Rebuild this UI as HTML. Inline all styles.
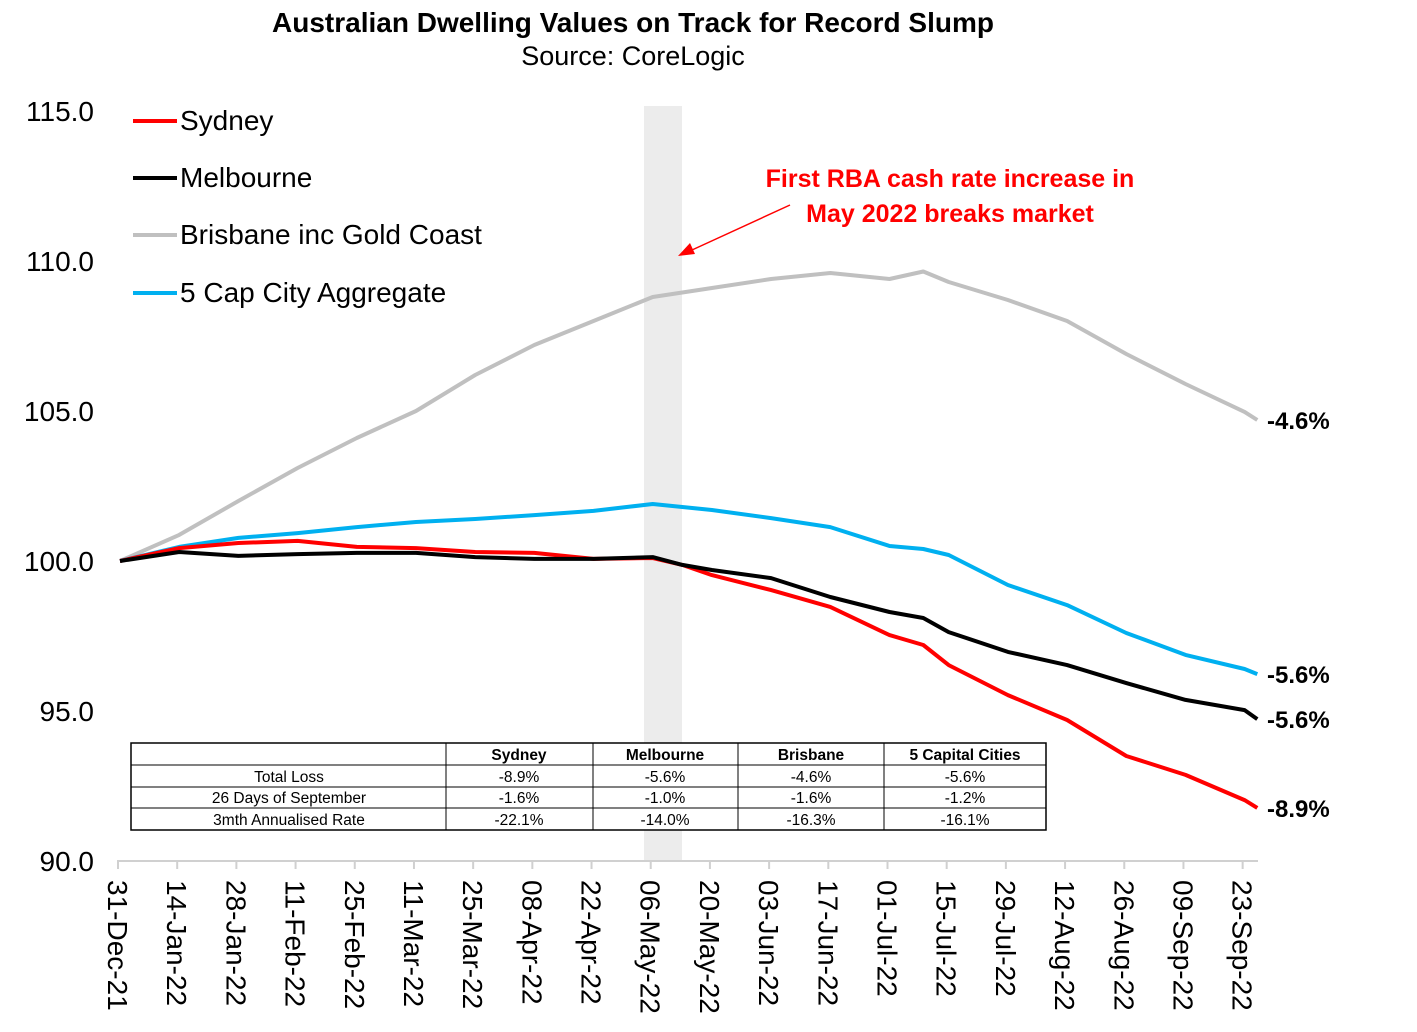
<!DOCTYPE html>
<html><head><meta charset="utf-8"><style>
body{margin:0;background:#fff;font-family:"Liberation Sans",Arial,sans-serif}
svg text{font-family:"Liberation Sans",Arial,sans-serif}
</style></head><body>
<svg id="chart" width="1417" height="1027" viewBox="0 0 1417 1027" xmlns="http://www.w3.org/2000/svg">
<text x="633" y="32" text-anchor="middle" font-size="28" font-weight="bold">Australian Dwelling Values on Track for Record Slump</text>
<text x="633" y="65" text-anchor="middle" font-size="27">Source: CoreLogic</text>
<rect x="644" y="106" width="38" height="755" fill="#ececec"/>
<g id="yaxis"></g>
<g id="xaxis"></g>
<g id="series"></g>
<g>
<g><line x1="133" y1="121" x2="177" y2="121" stroke="#ff0000" stroke-width="4"/><text x="180" y="130" font-size="28">Sydney</text></g>
<g><line x1="133" y1="178" x2="177" y2="178" stroke="#000" stroke-width="4"/><text x="180" y="187" font-size="28">Melbourne</text></g>
<g><line x1="133" y1="235" x2="177" y2="235" stroke="#c0c0c0" stroke-width="4"/><text x="180" y="244" font-size="28">Brisbane inc Gold Coast</text></g>
<g><line x1="133" y1="293" x2="177" y2="293" stroke="#00b0f0" stroke-width="4"/><text x="180" y="302" font-size="28">5 Cap City Aggregate</text></g>
</g>
<g>
<text x="950" y="187" text-anchor="middle" font-size="25" font-weight="bold" fill="#ff0000">First RBA cash rate increase in</text>
<text x="950" y="222" text-anchor="middle" font-size="25" font-weight="bold" fill="#ff0000">May 2022 breaks market</text>
<line x1="790" y1="205" x2="692" y2="250" stroke="#ff0000" stroke-width="1.5"/>
<polygon points="678,256 690,243 695,254" fill="#ff0000"/>
</g>
<g id="endlabels"></g>
<g font-size="15.5">
<rect x="131" y="743" width="915" height="87" fill="#fff" stroke="#000" stroke-width="1.5"/>
<line x1="131" y1="765" x2="1046" y2="765" stroke="#000"/>
<line x1="131" y1="787" x2="1046" y2="787" stroke="#000"/>
<line x1="131" y1="808" x2="1046" y2="808" stroke="#000"/>
<line x1="446" y1="743" x2="446" y2="830" stroke="#000"/>
<line x1="593" y1="743" x2="593" y2="830" stroke="#000"/>
<line x1="738" y1="743" x2="738" y2="830" stroke="#000"/>
<line x1="884" y1="743" x2="884" y2="830" stroke="#000"/>
<g font-weight="bold" text-anchor="middle"><text x="519" y="760">Sydney</text><text x="665" y="760">Melbourne</text><text x="811" y="760">Brisbane</text><text x="965" y="760">5 Capital Cities</text></g>
<g text-anchor="middle">
<text x="289" y="782">Total Loss</text><text x="519" y="782">-8.9%</text><text x="665" y="782">-5.6%</text><text x="811" y="782">-4.6%</text><text x="965" y="782">-5.6%</text>
<text x="289" y="803">26 Days of September</text><text x="519" y="803">-1.6%</text><text x="665" y="803">-1.0%</text><text x="811" y="803">-1.6%</text><text x="965" y="803">-1.2%</text>
<text x="289" y="825">3mth Annualised Rate</text><text x="519" y="825">-22.1%</text><text x="665" y="825">-14.0%</text><text x="811" y="825">-16.3%</text><text x="965" y="825">-16.1%</text>
</g>
</g>
</svg>
<script>
const days = [0,14,28,42,56,70,84,98,112,126,133,140,154,168,182,190,196,210,224,238,252,266,269];
const sydney = [100,100.43,100.6,100.67,100.47,100.43,100.3,100.27,100.07,100.1,99.87,99.53,99.03,98.47,97.53,97.2,96.53,95.53,94.7,93.5,92.87,92.03,91.77];
const melbourne = [100,100.3,100.17,100.23,100.27,100.27,100.13,100.07,100.07,100.13,99.87,99.7,99.43,98.8,98.3,98.1,97.63,96.97,96.53,95.93,95.37,95.03,94.73];
const brisbane = [100,100.87,102.0,103.1,104.1,105.0,106.2,107.2,108.0,108.8,108.95,109.1,109.4,109.6,109.4,109.65,109.3,108.7,108.0,106.9,105.9,104.97,104.7];
const fiveCap = [100,100.47,100.77,100.93,101.13,101.3,101.4,101.53,101.67,101.9,101.8,101.7,101.43,101.13,100.5,100.4,100.2,99.2,98.53,97.6,96.87,96.4,96.23];
const yTicks = [90,95,100,105,110,115];
const yTickLabels = ["90.0","95.0","100.0","105.0","110.0","115.0"];
const xTickDays = [0,14,28,42,56,70,84,98,112,126,140,154,168,182,196,210,224,238,252,266];
const xTickLabels = ["31-Dec-21","14-Jan-22","28-Jan-22","11-Feb-22","25-Feb-22","11-Mar-22","25-Mar-22","08-Apr-22","22-Apr-22","06-May-22","20-May-22","03-Jun-22","17-Jun-22","01-Jul-22","15-Jul-22","29-Jul-22","12-Aug-22","26-Aug-22","09-Sep-22","23-Sep-22"];
const endLabels = ["-8.9%","-5.6%","-4.6%","-5.6%"];

const NS="http://www.w3.org/2000/svg";
const xs = d => 120 + d*4.228;
const ys = v => 561 - (v-100)*30;
function mk(tag, attrs, parent){const e=document.createElementNS(NS,tag);for(const k in attrs)e.setAttribute(k,attrs[k]);parent.appendChild(e);return e;}
const yg=document.getElementById('yaxis');
yTicks.forEach((v,i)=>{const t=mk('text',{x:94,y:ys(v)+10,'text-anchor':'end','font-size':28},yg);t.textContent=yTickLabels[i];

});
const xg=document.getElementById('xaxis');
mk('line',{x1:117,y1:861,x2:1258,y2:861,stroke:'#d0d0d0','stroke-width':2},xg);
xTickDays.forEach((d,i)=>{const x=xs(d)-2;mk('line',{x1:x,y1:861,x2:x,y2:869,stroke:'#d0d0d0','stroke-width':2},xg);
const t=mk('text',{x:0,y:0,'font-size':28,transform:`translate(${x-10},880) rotate(90)`},xg);t.textContent=xTickLabels[i];

});
const sg=document.getElementById('series');
const list=[[brisbane,'#c0c0c0','brisbane-line'],[fiveCap,'#00b0f0','five-cap-line'],[sydney,'#ff0000','sydney-line'],[melbourne,'#000000','melbourne-line']];
list.forEach(([vals,c,n])=>{const p=mk('polyline',{points:vals.map((v,i)=>xs(days[i]).toFixed(1)+','+ys(v).toFixed(1)).join(' '),fill:'none',stroke:c,'stroke-width':4,'stroke-linejoin':'round'},sg);

});
const eg=document.getElementById('endlabels');
const last=days.length-1;
[[sydney,0],[melbourne,1],[brisbane,2],[fiveCap,3]].forEach(([vals,i])=>{const t=mk('text',{x:1267,y:ys(vals[last])+9,'font-size':24,'font-weight':'bold'},eg);t.textContent=endLabels[i];

});
</script>
</body></html>
